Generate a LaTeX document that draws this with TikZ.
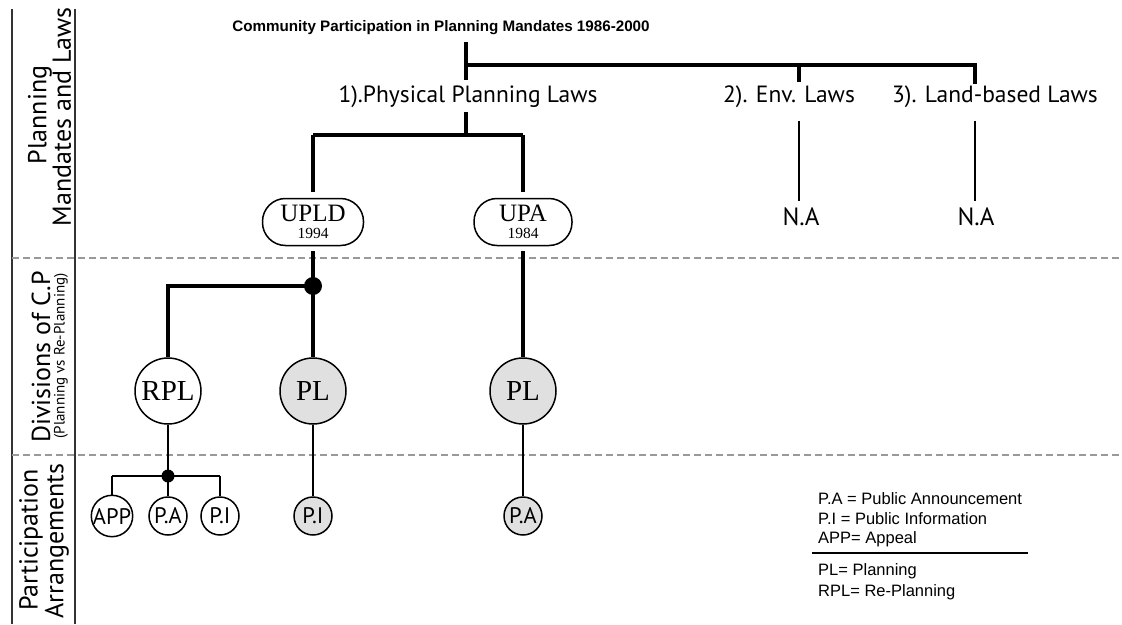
\documentclass[tikz,border=0pt]{standalone}
\usepackage{fontspec}
\setmainfont{Liberation Serif}
\newfontfamily\myr{PT Sans}
\newfontfamily\ari{Liberation Sans}
\begin{document}
\begin{tikzpicture}[x=1pt,y=-1pt,
  thickln/.style={line width=4pt},
  thinln/.style={line width=1.8pt},
  sep/.style={draw=black!40,line width=2pt,dash pattern=on 7pt off 4pt},
  colln/.style={draw=black!80,line width=2pt},
  side/.style={rotate=90,font=\myr\fontsize{26}{28}\selectfont,inner sep=0pt},
  sidesmall/.style={rotate=90,font=\myr\fontsize{15}{17}\selectfont,inner sep=0pt},
  lawlbl/.style={font=\myr\fontsize{23.5}{26}\selectfont,inner sep=0pt},
  na/.style={font=\myr\fontsize{25}{28}\selectfont,inner sep=0pt},
  actbox/.style={draw,line width=1.5pt,rounded corners=23pt,minimum height=47pt,align=center,inner sep=0pt,font=\fontsize{25}{17}\selectfont},
  big/.style={draw,circle,line width=1.5pt,minimum size=66pt,inner sep=0pt,font=\fontsize{29}{30}\selectfont},
  small/.style={draw,circle,line width=1.5pt,minimum size=38pt,inner sep=0pt,font=\myr\fontsize{22.5}{23}\selectfont},
  gfill/.style={fill=black!12},
  jdot/.style={circle,fill=black,inner sep=0pt},
  legend/.style={font=\ari\fontsize{16.5}{18}\selectfont,anchor=west,inner sep=0pt}
]
\useasboundingbox (0,0) rectangle (1122,624);
% column frame
\draw[colln] (12,9) -- (12,624);
\draw[colln] (75,9) -- (75,624);
\draw[sep] (12,258) -- (1122,258);
\draw[sep] (12,455) -- (1122,455);
% side labels
\node[side] (s1a) at (40,115) {Planning};
\node[side] (s1b) at (62,117) {Mandates and Laws};
\node[side] (s2a) at (41,357) {Divisions of C.P};
\node[sidesmall] (s2b) at (61,356) {(Planning vs Re-Planning)};
\node[side] (s3a) at (31,540) {Participation};
\node[side] (s3b) at (57,541) {Arrangements};
% title
\node[font=\ari\bfseries\fontsize{15.2}{17}\selectfont,inner sep=0pt] (title) at (441,28) {Community Participation in Planning Mandates 1986-2000};
% law labels
\node[lawlbl] (law1) at (468,97) {1).Physical Planning Laws};
\node[lawlbl] (law2) at (789,97) {2). Env. Laws};
\node[lawlbl] (law3) at (995,97) {3). Land-based Laws};
% top bracket
\coordinate (t0) at (466,42);
\coordinate (t1) at (466,80);
\coordinate (j0) at (466,65);
\coordinate (j2) at (799,65);
\coordinate (j3) at (975,65);
\coordinate (e2) at (799,82);
\coordinate (e3) at (975,84);
\draw[thickln] (t0) -- (t1);
\draw[thickln] (j0) -- (j3) -- (e3);
\draw[thickln] (j2) -- (e2);
% acts
\node[actbox,minimum width=101pt] (upld) at (313,222) {UPLD\\{\fontsize{15.5}{17}\selectfont 1994}};
\node[actbox,minimum width=98pt] (upa) at (523,222) {UPA\\{\fontsize{15.5}{17}\selectfont 1984}};
\coordinate (b0) at (466,112);
\coordinate (b1) at (466,135);
\coordinate (bl) at (313,135);
\coordinate (br) at (523,135);
\draw[thickln] (b0) -- (b1);
\draw[thickln] (bl) -- (br);
\draw[thickln,shorten >=6pt] (bl) -- (upld.north);
\draw[thickln,shorten >=6pt] (br) -- (upa.north);
% N.A
\node[na] (na1) at (801,217) {N.A};
\node[na] (na2) at (976,217) {N.A};
\coordinate (n1) at (799,121);
\coordinate (n2) at (975,121);
\draw[thinln] (n1) -- (799,201);
\draw[thinln] (n2) -- (975,201);
% divisions
\node[jdot,minimum size=18pt] (d1) at (313,286) {};
\node[big] (rpl) at (168,391) {RPL};
\node[big,gfill] (pl1) at (313,391) {PL};
\node[big,gfill] (pl2) at (523,391) {PL};
\coordinate (c1) at (168,286);
\draw[thickln,shorten <=5pt] (upld.south) -- (d1.center) -- (pl1.north);
\draw[thickln] (d1.center) -- (c1) -- (rpl.north);
\draw[thickln,shorten <=5pt] (upa.south) -- (pl2.north);
% arrangements
\node[jdot,minimum size=13pt] (d2) at (168,476) {};
\node[small] (app) at (112,516) {APP};
\node[small] (pa) at (168,516) {P.A};
\node[small] (pi) at (220,516) {P.I};
\node[small,gfill] (pi2) at (313,516) {P.I};
\node[small,gfill] (pa2) at (523,516) {P.A};
\coordinate (c2) at (112,476);
\coordinate (c3) at (220,476);
\draw[thinln] (rpl.south) -- (d2.center) -- (pa.north);
\draw[thinln] (c2) -- (c3);
\draw[thinln] (c2) -- (app.north);
\draw[thinln] (c3) -- (pi.north);
\draw[thinln] (pl1.south) -- (pi2.north);
\draw[thinln] (pl2.south) -- (pa2.north);
% legend
\node[legend] (lg1) at (818,499) {P.A = Public Announcement};
\node[legend] (lg2) at (818,519) {P.I = Public Information};
\node[legend] (lg3) at (818,539) {APP= Appeal};
\coordinate (lgl) at (812,553);
\coordinate (lgr) at (1028,553);
\draw[line width=1.8pt] (lgl) -- (lgr);
\node[legend] (lg4) at (818,571) {PL= Planning};
\node[legend] (lg5) at (818,592) {RPL= Re-Planning};
\end{tikzpicture}
\end{document}
